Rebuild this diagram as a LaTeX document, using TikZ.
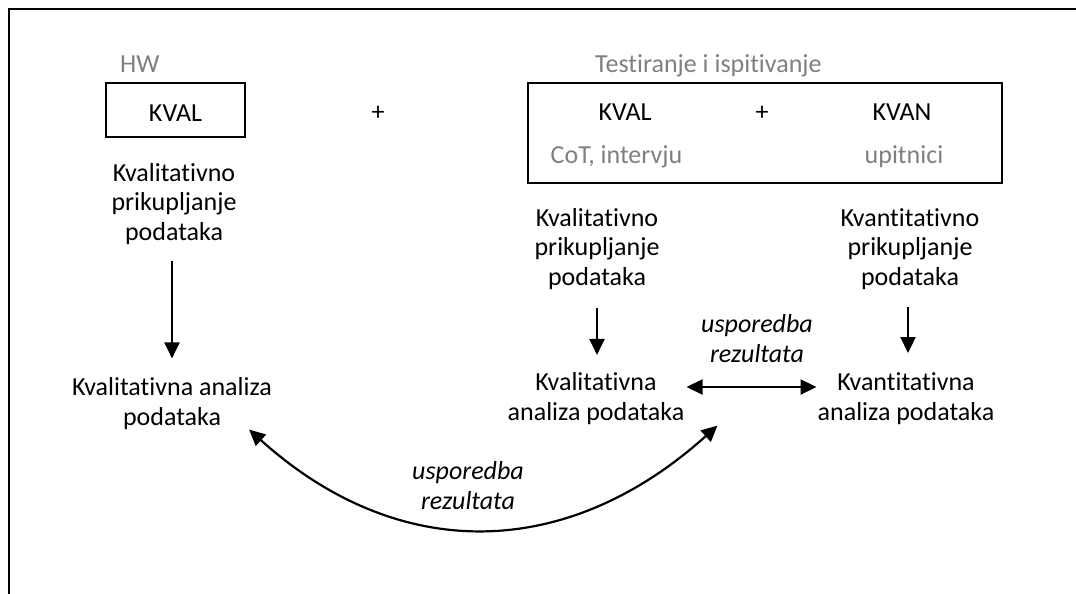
\documentclass[tikz,border=0pt]{standalone}
\usepackage{fontspec}
\setmainfont{Carlito}[Ligatures=NoCommon]
\usetikzlibrary{arrows.meta}
\definecolor{txtgray}{HTML}{7F7F7F}
\tikzset{
  txt/.style={inner sep=0pt, align=center, font=\fontsize{26pt}{29.5pt}\selectfont},
  graytxt/.style={txt, text=txtgray},
  itxt/.style={txt, font=\fontsize{26pt}{30pt}\selectfont\itshape},
  boxnode/.style={draw, line width=2pt, inner sep=0pt},
  arr/.style={line width=2.2pt, -{Triangle[length=16pt,width=15pt]}},
  darr/.style={line width=2.2pt, {Triangle[length=16pt,width=15pt]}-{Triangle[length=16pt,width=15pt]}},
}
\begin{document}
\begin{tikzpicture}[x=1pt,y=-1pt]
\useasboundingbox (0,0) rectangle (1076,594);
% frame (open at right and bottom)
\draw[line width=2pt] (8.5,600) -- (8.5,9.5) -- (1080,9.5);

% headers
\node[graytxt, anchor=base west] (hw) at (120,72.7) {HW};
\node[graytxt, anchor=base west] (ti) at (595,72.7) {Testiranje i ispitivanje};

% left box
\node[boxnode, txt, minimum width=139pt, minimum height=54pt, text height=22.7pt, text depth=0pt] (kvalL) at (175.5,110) {KVAL};
\node[txt] (plus1) at (378,113) {+};

% big box
\node[boxnode, minimum width=474pt, minimum height=100pt] (bigbox) at (765,133) {};
\node[txt] (kvalR) at (625,112.5) {KVAL};
\node[txt] (plus2) at (762,113) {+};
\node[txt] (kvan) at (902,112.5) {KVAN};
\node[graytxt] (cot) at (616.5,157) {CoT, intervju};
\node[graytxt] (upit) at (904,157) {upitnici};

% columns
\node[txt] (lt) at (174,204) {Kvalitativno\\prikupljanje\\podataka};
\node[txt] (lb) at (172,403.5) {Kvalitativna analiza\\podataka};
\node[txt] (mt) at (597,249) {Kvalitativno\\prikupljanje\\podataka};
\node[txt] (mb) at (596,398.5) {Kvalitativna\\analiza podataka};
\node[txt] (rt) at (910,249) {Kvantitativno\\prikupljanje\\podataka};
\node[txt] (rb) at (906,398.5) {Kvantitativna\\analiza podataka};

\node[itxt] (usp1) at (757,339) {usporedba\\rezultata};
\node[itxt] (usp2) at (468,486) {usporedba\\rezultata};

% arrows
\draw[arr, shorten <=16pt, shorten >=19pt] (lt.south -| 172,0) -- (lb.north -| 172,0);
\draw[arr, shorten <=18.6pt, shorten >=17.5pt] (mt.south) -- (mt.south |- mb.north);
\draw[arr, shorten <=17.3pt, shorten >=19.5pt] (rt.south -| 908,0) -- (rb.north -| 908,0);
\draw[darr] ([xshift=2pt,yshift=11.5pt]mb.east) -- ([xshift=-1pt,yshift=11.5pt]mb.east -| rb.west);
\draw[darr] ([xshift=-23pt]lb.south east) .. controls +(150,135) and +(-150,135) .. ([xshift=33pt,yshift=-1pt]mb.south east);
\end{tikzpicture}
\end{document}
